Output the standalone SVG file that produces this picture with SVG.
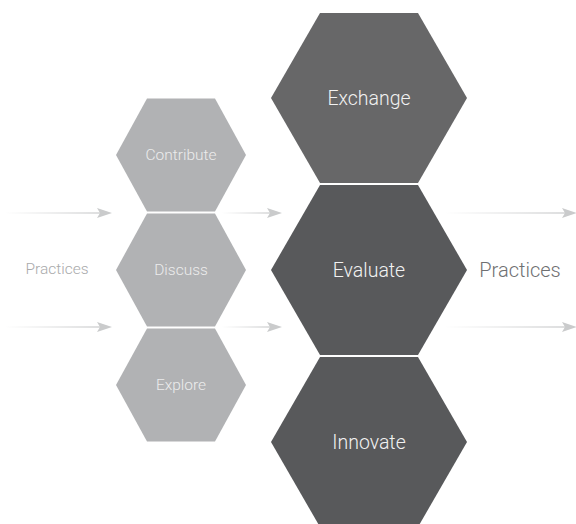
<svg xmlns="http://www.w3.org/2000/svg" width="576" height="524" viewBox="0 0 576 524">
<style>
.small{fill:#b1b2b4}
.big1{fill:#676768}
.big2{fill:#58595b}
.ts{font-family:Roboto,"Liberation Sans",Arial,sans-serif;font-weight:300;font-size:15.5px;fill:#ececec;text-anchor:middle}
.tb{font-family:Roboto,"Liberation Sans",Arial,sans-serif;font-weight:300;font-size:19.5px;fill:#f2f2f2;text-anchor:middle}
.tp{font-family:Roboto,"Liberation Sans",Arial,sans-serif;font-weight:300;text-anchor:middle}
.head{fill:#cacbcc}
</style>
<defs>
<linearGradient id="g" x1="0" y1="0" x2="1" y2="0">
<stop offset="0" stop-color="#ffffff"/>
<stop offset="1" stop-color="#cfd0d1"/>
</linearGradient>
</defs>
<g id="connectors">
<rect x="5" y="212.3" width="96" height="1.4" fill="url(#g)"/>
<polygon class="head" points="97,208 112,213 97,218 100,213"/>
<rect x="5" y="326.3" width="96" height="1.4" fill="url(#g)"/>
<polygon class="head" points="97,322 112,327 97,332 100,327"/>
<rect x="222" y="212.3" width="50" height="1.4" fill="url(#g)"/>
<polygon class="head" points="267,208 282,213 267,218 270,213"/>
<rect x="222" y="326.3" width="50" height="1.4" fill="url(#g)"/>
<polygon class="head" points="267,322 282,327 267,332 270,327"/>
<rect x="445" y="212.3" width="120" height="1.4" fill="url(#g)"/>
<polygon class="head" points="562,208 577,213 562,218 565,213"/>
<rect x="445" y="326.3" width="120" height="1.4" fill="url(#g)"/>
<polygon class="head" points="562,322 577,327 562,332 565,327"/>
</g>
<g id="contribute">
<polygon class="small" points="147,98.5 215,98.5 246,155 215,211.5 147,211.5 116,155"/>
<text class="ts" x="181" y="160">Contribute</text>
</g>
<g id="discuss">
<polygon class="small" points="147,213.5 215,213.5 246,270 215,326.5 147,326.5 116,270"/>
<text class="ts" x="181" y="275">Discuss</text>
</g>
<g id="explore">
<polygon class="small" points="147,328.5 215,328.5 246,385 215,441.5 147,441.5 116,385"/>
<text class="ts" x="181" y="390">Explore</text>
</g>
<g id="exchange">
<polygon class="big1" points="320,13 418,13 467,98 418,183 320,183 271,98"/>
<text class="tb" x="369" y="105">Exchange</text>
</g>
<g id="evaluate">
<polygon class="big2" points="320,185 418,185 467,270 418,355 320,355 271,270"/>
<text class="tb" x="369" y="277">Evaluate</text>
</g>
<g id="innovate">
<polygon class="big2" points="320,357 418,357 467,442 418,527 320,527 271,442"/>
<text class="tb" x="369" y="449">Innovate</text>
</g>
<g id="practices-left">
<text class="tp" x="57" y="274" style="font-size:15.5px;fill:#a9aaab">Practices</text>
</g>
<g id="practices-right">
<text class="tp" x="520" y="277" style="font-size:20px;fill:#6f7072">Practices</text>
</g>
</svg>
